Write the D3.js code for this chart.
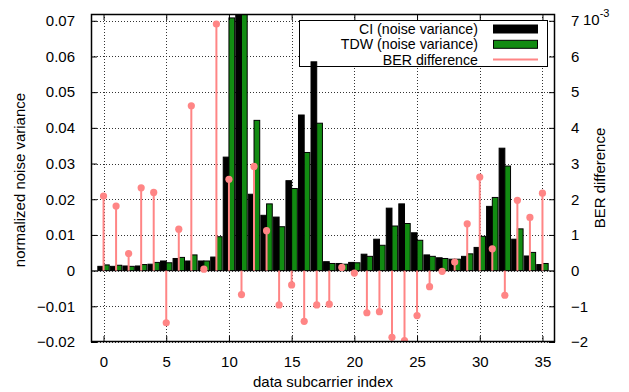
<!DOCTYPE html>
<html lang="en">
<head>
    <meta charset="UTF-8">
    <title>Noise variance and BER difference per subcarrier</title>
    <script src="https://d3js.org/d3.v7.min.js"></script>
    <style>
        body { margin: 0; background: #fff; }
        svg text { font-family: "Liberation Sans", Arial, sans-serif; font-size: 15px; fill: #000; }
    </style>
</head>
<body>
    <div id="chart"></div>
    <script>
        // data subcarrier index 0..35
        const subcarriers = d3.range(0, 36);
        // normalized noise variance, CI estimator (index 11 runs off the top)
        const nvCI = [0.0012, 0.0012, 0.0013, 0.0013, 0.0018, 0.0027, 0.0034, 0.0027, 0.0027, 0.0038,
                      0.0318, 0.095, 0.0214, 0.0155, 0.0150, 0.0252, 0.0436, 0.0585, 0.0025, 0.0020,
                      0.0023, 0.0046, 0.0088, 0.0175, 0.0187, 0.0106, 0.0044, 0.0036, 0.0032, 0.0040,
                      0.0065, 0.0180, 0.0343, 0.0088, 0.0041, 0.0017];
        // normalized noise variance, TDW estimator
        const nvTDW = [0.0016, 0.0015, 0.0012, 0.0017, 0.0023, 0.0022, 0.0037, 0.0044, 0.0027, 0.0095,
                       0.0708, 0.085, 0.0421, 0.0187, 0.0123, 0.0230, 0.0331, 0.0413, 0.0020, 0.0018,
                       0.0022, 0.0040, 0.0071, 0.0125, 0.0132, 0.0085, 0.0040, 0.0034, 0.0032, 0.0047,
                       0.0096, 0.0205, 0.0293, 0.0117, 0.0051, 0.0020];
        // BER difference, in units of 10^-3
        const berDiff = [2.09, 1.81, 0.48, 2.32, 2.19, -1.46, 1.16, 4.62, 0.04, 6.91,
                         2.56, -0.67, 2.92, 1.12, -0.96, -0.40, -1.42, -0.96, -0.94, 0.09,
                         -0.07, -1.18, -1.15, -1.87, -1.96, -1.26, -0.45, -0.02, 0.24, 1.31,
                         2.62, 0.61, -0.69, 1.97, 1.49, 2.17];

        const xTicks = d3.range(0, 36, 5);
        const yTicks = d3.range(-0.02, 0.0701, 0.01);
        const y2Ticks = d3.range(-2, 7.01, 1);

        const width = 629, height = 392;
        const margin = {top: 14, right: 74, bottom: 50, left: 91};

        const svg = d3.select("#chart").append("svg")
            .attr("width", width)
            .attr("height", height);

        const x = d3.scaleLinear().domain([-1, 36]).range([margin.left, width - margin.right]);
        const y = d3.scaleLinear().domain([-0.02, 0.0719]).range([height - margin.bottom, margin.top]);
        const y2 = d3.scaleLinear().domain([-2, 7.19]).range([height - margin.bottom, margin.top]);

        svg.append("clipPath").attr("id", "plot-clip")
            .append("rect")
            .attr("x", margin.left).attr("y", margin.top)
            .attr("width", width - margin.left - margin.right)
            .attr("height", height - margin.top - margin.bottom);

        // grid
        const grid = svg.append("g")
            .attr("stroke", "#333")
            .attr("stroke-width", 1)
            .attr("stroke-dasharray", "1,2");
        grid.selectAll(".gx").data(xTicks).enter().append("line")
            .attr("x1", d => Math.round(x(d)) + 0.5).attr("x2", d => Math.round(x(d)) + 0.5)
            .attr("y1", margin.top).attr("y2", height - margin.bottom);
        grid.selectAll(".gy").data(yTicks).enter().append("line")
            .attr("x1", margin.left).attr("x2", width - margin.right)
            .attr("y1", d => Math.round(y(d)) + 0.5).attr("y2", d => Math.round(y(d)) + 0.5);

        // zero line
        svg.append("line")
            .attr("x1", margin.left).attr("x2", width - margin.right)
            .attr("y1", y(0)).attr("y2", y(0))
            .attr("stroke", "#888").attr("stroke-width", 1);

        // legend background
        const lg = {x: 299, y: 20.5, w: 248, h: 46};
        svg.append("rect")
            .attr("x", lg.x).attr("y", lg.y).attr("width", lg.w).attr("height", lg.h)
            .attr("fill", "#fff");

        const plot = svg.append("g").attr("clip-path", "url(#plot-clip)");
        const half = 0.455;

        // CI bars (left half of each slot)
        plot.selectAll(".ci").data(subcarriers).enter().append("rect")
            .attr("x", i => x(i - half))
            .attr("width", x(half) - x(0))
            .attr("y", i => y(nvCI[i]))
            .attr("height", i => y(0) - y(nvCI[i]))
            .attr("fill", "#000")
            .attr("stroke", "#000")
            .attr("stroke-width", 1);

        // TDW bars (right half)
        plot.selectAll(".tdw").data(subcarriers).enter().append("rect")
            .attr("x", i => x(i))
            .attr("width", x(half) - x(0))
            .attr("y", i => y(nvTDW[i]))
            .attr("height", i => y(0) - y(nvTDW[i]))
            .attr("fill", "#128c12")
            .attr("stroke", "#000")
            .attr("stroke-width", 1);

        // BER difference stems
        const pink = "#ff8585";
        plot.selectAll(".stem").data(subcarriers).enter().append("line")
            .attr("x1", i => x(i)).attr("x2", i => x(i))
            .attr("y1", y2(0)).attr("y2", i => y2(berDiff[i]))
            .attr("stroke", pink).attr("stroke-width", 2);
        plot.selectAll(".dot").data(subcarriers).enter().append("circle")
            .attr("cx", i => x(i)).attr("cy", i => y2(berDiff[i]))
            .attr("r", 3.6).attr("fill", pink);

        // frame
        svg.append("rect")
            .attr("x", margin.left + 0.5).attr("y", margin.top + 0.5)
            .attr("width", width - margin.left - margin.right - 1)
            .attr("height", height - margin.top - margin.bottom - 1)
            .attr("fill", "none").attr("stroke", "#000").attr("stroke-width", 1.5);

        // axes with inward ticks
        const tick = -6;
        svg.append("g").attr("transform", `translate(0,${height - margin.bottom})`)
            .call(d3.axisBottom(x).tickValues(xTicks).tickSize(tick).tickPadding(14).tickFormat(d3.format("d")))
            .call(g => g.select(".domain").remove());
        svg.append("g").attr("transform", `translate(0,${margin.top})`)
            .call(d3.axisTop(x).tickValues(xTicks).tickSize(tick).tickFormat(""))
            .call(g => g.select(".domain").remove());
        svg.append("g").attr("transform", `translate(${margin.left},0)`)
            .call(d3.axisLeft(y).tickValues(yTicks).tickSize(tick).tickPadding(16)
                .tickFormat(d => Math.abs(d) < 1e-9 ? "0" : d3.format(".2f")(d)))
            .call(g => g.select(".domain").remove());
        svg.append("g").attr("transform", `translate(${width - margin.right},0)`)
            .call(d3.axisRight(y2).tickValues(y2Ticks).tickSize(tick).tickPadding(16).tickFormat(d3.format("d")))
            .call(g => g.select(".domain").remove());
        svg.selectAll(".tick line").attr("stroke", "#000");
        svg.selectAll(".tick text").style("font-size", "15px")
            .style("font-family", "'Liberation Sans', Arial, sans-serif");

        // exponent for right axis
        const exp = svg.append("text").attr("x", 583).attr("y", 25);
        exp.append("tspan").text("10");
        exp.append("tspan").attr("dy", -8).style("font-size", "11px").text("-3");

        // axis titles
        svg.append("text")
            .attr("x", (margin.left + width - margin.right) / 2)
            .attr("y", 387)
            .attr("text-anchor", "middle")
            .text("data subcarrier index");
        svg.append("text")
            .attr("transform", `translate(25,${(margin.top + height - margin.bottom) / 2 + 2}) rotate(-90)`)
            .attr("text-anchor", "middle")
            .text("normalized noise variance");
        svg.append("text")
            .attr("transform", `translate(605,${(margin.top + height - margin.bottom) / 2}) rotate(-90)`)
            .attr("text-anchor", "middle")
            .text("BER difference");

        // legend
        const legendItems = [
            {label: "CI (noise variance)", type: "bar", color: "#000"},
            {label: "TDW (noise variance)", type: "bar", color: "#128c12"},
            {label: "BER difference", type: "line", color: pink}
        ];
        const legend = svg.append("g");
        legendItems.forEach((d, i) => {
            const cy = 29 + i * 15.3;
            legend.append("text")
                .attr("x", 478).attr("y", cy + 5)
                .attr("text-anchor", "end")
                .style("font-size", "14.2px")
                .text(d.label);
            if (d.type === "bar") {
                legend.append("rect")
                    .attr("x", 493.5).attr("y", cy - 4)
                    .attr("width", 44).attr("height", 8)
                    .attr("fill", d.color).attr("stroke", "#000").attr("stroke-width", 1);
            } else {
                legend.append("line")
                    .attr("x1", 493).attr("x2", 538)
                    .attr("y1", cy).attr("y2", cy)
                    .attr("stroke", d.color).attr("stroke-width", 2);
            }
        });
        legend.append("rect")
            .attr("x", lg.x + 0.5).attr("y", lg.y).attr("width", lg.w).attr("height", lg.h)
            .attr("fill", "none").attr("stroke", "#000").attr("stroke-width", 1);
    </script>
</body>
</html>
